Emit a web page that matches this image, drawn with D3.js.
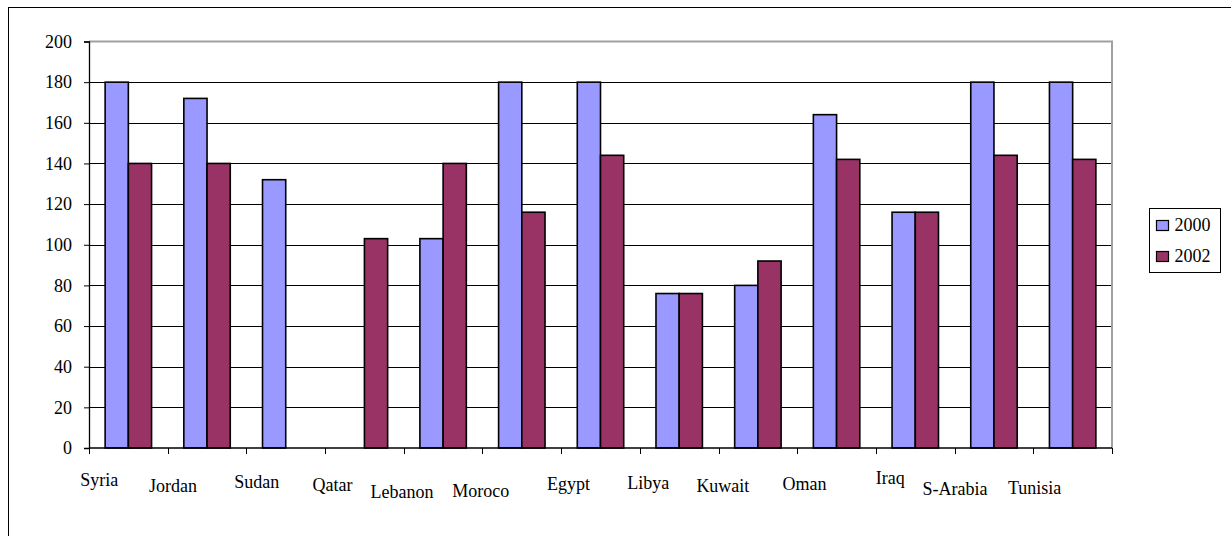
<!DOCTYPE html>
<html>
<head>
<meta charset="utf-8">
<script src="https://cdn.jsdelivr.net/npm/d3@7"></script>
<style>
  html, body { margin: 0; padding: 0; background: #fff; }
  svg { display: block; }
  text { font-family: "Liberation Serif", "Times New Roman", serif; font-size: 18px; fill: #000; }
</style>
</head>
<body>
<svg id="chart" width="1231" height="536"></svg>
<script>
// Countries along the category axis
const countries = ["Syria", "Jordan", "Sudan", "Qatar", "Lebanon", "Moroco", "Egypt",
                   "Libya", "Kuwait", "Oman", "Iraq", "S-Arabia", "Tunisia"];
// Series values (null = no bar)
const values2000 = [180, 172, 132, null, 103, 180, 180, 76, 80, 164, 116, 180, 180];
const values2002 = [140, 140, null, 103, 140, 116, 144, 76, 92, 142, 116, 144, 142];
const seriesNames = ["2000", "2002"];
const yTicks = [0, 20, 40, 60, 80, 100, 120, 140, 160, 180, 200];

// Category labels sit slightly staggered under the axis
const labelShift = [-29, -34, -29, -32, -41, -41, -32, -31, -35, -32, -25, -39, -38];
const labelBaseline = [486, 492, 488, 491, 498, 497, 490, 489, 492, 490, 484, 495, 494];

const colors = { "2000": "#9999FF", "2002": "#993366" };

const svg = d3.select("#chart");
const plot = { left: 89, right: 1112, top: 41.5, bottom: 448 };

// Outer chart frame (runs past the right and bottom of the view)
svg.append("rect")
  .attr("x", 8.5).attr("y", 7.5)
  .attr("width", 1300).attr("height", 600)
  .attr("fill", "none").attr("stroke", "#000").attr("stroke-width", 1);

const x0 = d3.scaleBand()
  .domain(countries)
  .range([plot.left, plot.right])
  .paddingInner(0.41)
  .paddingOuter(0.205);

const x1 = d3.scaleBand()
  .domain(seriesNames)
  .range([0, x0.bandwidth()]);

const y = d3.scaleLinear().domain([0, 200]).range([plot.bottom, plot.top]);

// Horizontal gridlines
svg.append("g")
  .selectAll("line")
  .data(yTicks.filter(t => t > 0 && t < 200))
  .join("line")
  .attr("x1", plot.left).attr("x2", plot.right)
  .attr("y1", d => Math.round(y(d)) + 0.5).attr("y2", d => Math.round(y(d)) + 0.5)
  .attr("stroke", "#000").attr("stroke-width", 1);

// Plot area border: grey top and right edges
svg.append("path")
  .attr("d", `M${plot.left},${plot.top}H${plot.right}V${plot.bottom}`)
  .attr("fill", "none").attr("stroke", "#a0a0a0").attr("stroke-width", 2);

// Bars
const rows = countries.map((c, i) => ({ country: c, vals: [values2000[i], values2002[i]] }));
const groups = svg.append("g")
  .selectAll("g")
  .data(rows)
  .join("g")
  .attr("transform", d => `translate(${x0(d.country)},0)`);

groups.selectAll("rect")
  .data(d => seriesNames.map((s, k) => ({ series: s, value: d.vals[k] })).filter(v => v.value != null))
  .join("rect")
  .attr("x", d => x1(d.series))
  .attr("y", d => y(d.value))
  .attr("width", x1.bandwidth())
  .attr("height", d => y(0) - y(d.value))
  .attr("fill", d => colors[d.series])
  .attr("stroke", "#000").attr("stroke-width", 1.6);

// Y axis
const yAxis = d3.axisLeft(y).tickValues(yTicks).tickSize(5).tickPadding(12).tickFormat(d3.format("d"));
const gy = svg.append("g").attr("transform", `translate(${plot.left},0)`).call(yAxis);
gy.select(".domain").attr("stroke", "#000").attr("stroke-width", 1.3);
gy.selectAll(".tick line").attr("stroke", "#000");
gy.selectAll(".tick text")
  .style("font-family", '"Liberation Serif", serif').style("font-size", "18px")
  .attr("fill", "#000").attr("dy", "0.32em");

// X axis: ticks at category boundaries, labels placed separately
const xAxisG = svg.append("g");
xAxisG.append("line")
  .attr("x1", plot.left).attr("x2", plot.right)
  .attr("y1", plot.bottom).attr("y2", plot.bottom)
  .attr("stroke", "#000").attr("stroke-width", 1.3);
const boundaries = countries.map(c => x0(c) - x0.step() * x0.paddingInner() / 2)
  .concat([plot.right]);
xAxisG.selectAll("line.tick")
  .data(boundaries)
  .join("line")
  .attr("class", "tick")
  .attr("x1", d => Math.round(d) + 0.5).attr("x2", d => Math.round(d) + 0.5)
  .attr("y1", plot.bottom).attr("y2", plot.bottom + 6)
  .attr("stroke", "#000").attr("stroke-width", 1);

xAxisG.selectAll("text")
  .data(countries)
  .join("text")
  .attr("x", (d, i) => x0(d) + x0.bandwidth() / 2 + labelShift[i])
  .attr("y", (d, i) => labelBaseline[i])
  .attr("text-anchor", "middle")
  .text(d => d);

// Legend
const legend = svg.append("g").attr("transform", "translate(1149.5,208.5)");
legend.append("rect")
  .attr("width", 71).attr("height", 64)
  .attr("fill", "#fff").attr("stroke", "#000").attr("stroke-width", 1);
const items = legend.selectAll("g.item")
  .data(seriesNames)
  .join("g")
  .attr("class", "item")
  .attr("transform", (d, i) => `translate(7,${12 + i * 31})`);
items.append("rect")
  .attr("width", 12).attr("height", 10)
  .attr("fill", d => colors[d]).attr("stroke", "#000").attr("stroke-width", 1.2);
items.append("text")
  .attr("x", 18).attr("y", 10)
  .text(d => d);
</script>
</body>
</html>
